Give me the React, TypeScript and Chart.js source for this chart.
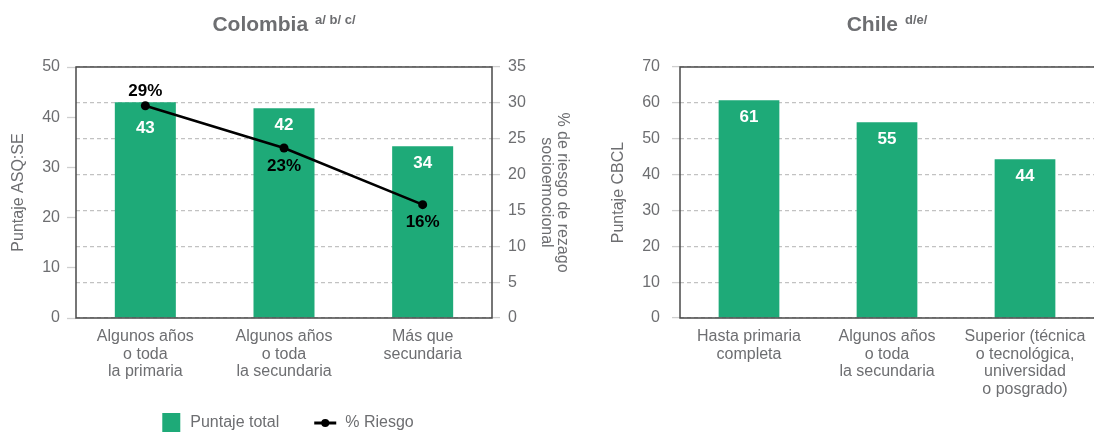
import React, { useEffect, useRef } from "react";
import { Chart, registerables } from "chart.js";

Chart.register(...registerables);

// ---------- Data ----------
const colombiaCategories: string[][] = [
  ["Algunos años", "o toda", "la primaria"],
  ["Algunos años", "o toda", "la secundaria"],
  ["Más que", "secundaria"],
];
const colombiaScores = [43, 41.8, 34.2];
const colombiaRisk = [29.6, 23.7, 15.8];
const colombiaRiskLabels = ["29%", "23%", "16%"];
const colombiaScoreAxis = [0, 50, 10]; // min, max, step
const colombiaRiskAxis = [0, 35, 5];

const chileCategories: string[][] = [
  ["Hasta primaria", "completa"],
  ["Algunos años", "o toda", "la secundaria"],
  ["Superior (técnica", "o tecnológica,", "universidad", "o posgrado)"],
];
const chileScores = [60.7, 54.6, 44.3];
const chileScoreAxis = [0, 70, 10];

const seriesNames = ["Puntaje total", "% Riesgo"];

// ---------- Styles ----------
const FONT = "'Liberation Sans', Arial, Helvetica, sans-serif";
const GRAY = "#6d6e71";
const GREEN = "#1eaa78";
const FRAME = "#4a4a4a";
const GRID = "#c2c2c2";
const TICKMARK = "#cfcfcf";

Chart.defaults.font.family = FONT;

function titlePlugin(main: string, sup: string) {
  return {
    id: "customTitle",
    afterDraw(chart: any) {
      const { ctx, chartArea } = chart;
      ctx.save();
      ctx.fillStyle = GRAY;
      ctx.textBaseline = "alphabetic";
      ctx.textAlign = "left";
      ctx.font = `bold 21px ${FONT}`;
      const wMain = ctx.measureText(main).width;
      ctx.font = `bold 13px ${FONT}`;
      const wSup = ctx.measureText(sup).width;
      const gap = 7;
      const total = wMain + gap + wSup;
      const x0 = (chartArea.left + chartArea.right) / 2 - total / 2;
      ctx.font = `bold 21px ${FONT}`;
      ctx.fillText(main, x0, 31);
      ctx.font = `bold 13px ${FONT}`;
      ctx.fillText(sup, x0 + wMain + gap, 24);
      ctx.restore();
    },
  };
}

function framePlugin(openRight: boolean) {
  return {
    id: "frame",
    afterDatasetsDraw(chart: any) {
      const { ctx, chartArea: a, width } = chart;
      ctx.save();
      ctx.strokeStyle = FRAME;
      ctx.lineWidth = 1.5;
      ctx.beginPath();
      if (openRight) {
        ctx.moveTo(width, a.top);
        ctx.lineTo(a.left, a.top);
        ctx.lineTo(a.left, a.bottom);
        ctx.lineTo(width, a.bottom);
      } else {
        ctx.rect(a.left, a.top, a.right - a.left, a.bottom - a.top);
      }
      ctx.stroke();
      ctx.restore();
    },
  };
}

function barLabelPlugin(offsets: number[]) {
  return {
    id: "barLabels",
    afterDatasetsDraw(chart: any) {
      const { ctx } = chart;
      const meta = chart.getDatasetMeta(0);
      const data = chart.data.datasets[0].data as number[];
      ctx.save();
      ctx.font = `bold 17px ${FONT}`;
      ctx.fillStyle = "#ffffff";
      ctx.textAlign = "center";
      ctx.textBaseline = "middle";
      meta.data.forEach((el: any, i: number) => {
        ctx.fillText(String(Math.round(data[i])), el.x, el.y + offsets[i]);
      });
      ctx.restore();
    },
  };
}

function riskLabelPlugin(labels: string[], offsets: number[]) {
  return {
    id: "riskLabels",
    afterDatasetsDraw(chart: any) {
      const { ctx } = chart;
      const meta = chart.getDatasetMeta(1);
      ctx.save();
      ctx.font = `bold 17px ${FONT}`;
      ctx.fillStyle = "#000000";
      ctx.textAlign = "center";
      ctx.textBaseline = "middle";
      meta.data.forEach((el: any, i: number) => {
        ctx.fillText(labels[i], el.x, el.y + offsets[i]);
      });
      ctx.restore();
    },
  };
}

const legendPlugin = {
  id: "customLegend",
  afterDraw(chart: any) {
    const { ctx, width } = chart;
    const ds = chart.data.datasets;
    ctx.save();
    ctx.font = `16px ${FONT}`;
    ctx.textBaseline = "middle";
    ctx.textAlign = "left";
    const boxW = 18;
    const gap = 10;
    const itemGap = 35;
    const lineW = 22;
    const w0 = ctx.measureText(ds[0].label).width;
    const w1 = ctx.measureText(ds[1].label).width;
    const total = boxW + gap + w0 + itemGap + lineW + 9 + w1;
    let x = width / 2 - total / 2;
    const y = 423;
    ctx.fillStyle = ds[0].backgroundColor;
    ctx.fillRect(x, y - 10, boxW, 19);
    x += boxW + gap;
    ctx.fillStyle = GRAY;
    ctx.fillText(ds[0].label, x, y);
    x += w0 + itemGap;
    ctx.strokeStyle = ds[1].borderColor;
    ctx.lineWidth = 3;
    ctx.beginPath();
    ctx.moveTo(x, y);
    ctx.lineTo(x + lineW, y);
    ctx.stroke();
    ctx.fillStyle = ds[1].borderColor;
    ctx.beginPath();
    ctx.arc(x + lineW / 2, y, 4, 0, Math.PI * 2);
    ctx.fill();
    x += lineW + 9;
    ctx.fillStyle = GRAY;
    ctx.fillText(ds[1].label, x, y);
    ctx.restore();
  },
};

const tickFont = { family: FONT, size: 16, lineHeight: 1.1 };

function xScale() {
  return {
    type: "category" as const,
    offset: true,
    grid: {
      display: true,
      drawOnChartArea: false,
      drawTicks: true,
      tickLength: 10,
      tickColor: "rgba(0,0,0,0)",
    },
    border: { display: false },
    ticks: {
      padding: 0,
      color: GRAY,
      font: tickFont,
      maxRotation: 0,
      minRotation: 0,
      autoSkip: false,
    },
    afterFit: (s: any) => {
      s.height = 116;
    },
  };
}

function ColombiaChart() {
  const ref = useRef<HTMLCanvasElement>(null);
  useEffect(() => {
    const chart = new Chart(ref.current as HTMLCanvasElement, {
      type: "bar",
      data: {
        labels: colombiaCategories,
        datasets: [
          {
            type: "bar",
            label: seriesNames[0],
            data: colombiaScores,
            backgroundColor: GREEN,
            borderWidth: 0,
            yAxisID: "y",
            categoryPercentage: 0.88,
            barPercentage: 0.5,
            order: 2,
          } as any,
          {
            type: "line",
            label: seriesNames[1],
            data: colombiaRisk,
            borderColor: "#000000",
            backgroundColor: "#000000",
            borderWidth: 2.5,
            pointRadius: 4.5,
            pointBackgroundColor: "#000000",
            pointBorderWidth: 0,
            tension: 0,
            yAxisID: "y1",
            order: 1,
          } as any,
        ],
      },
      options: {
        responsive: false,
        animation: false,
        events: [],
        layout: { padding: { top: 67, left: 0, right: 0, bottom: 0 } },
        plugins: {
          legend: { display: false },
          tooltip: { enabled: false },
          title: { display: false },
        },
        scales: {
          x: xScale() as any,
          y: {
            position: "left",
            min: colombiaScoreAxis[0],
            max: colombiaScoreAxis[1],
            ticks: { stepSize: colombiaScoreAxis[2], padding: 7, color: GRAY, font: tickFont },
            grid: {
              display: true,
              drawOnChartArea: false,
              drawTicks: true,
              tickLength: 9,
              tickColor: TICKMARK,
              tickWidth: 1.3,
            },
            border: { display: false },
            title: {
              display: true,
              text: "Puntaje ASQ:SE",
              color: GRAY,
              font: { family: FONT, size: 16, lineHeight: 1.2 },
              padding: { top: 9, bottom: 0 },
            },
            afterFit: (s: any) => {
              s.width = 76;
            },
          } as any,
          y1: {
            position: "right",
            min: colombiaRiskAxis[0],
            max: colombiaRiskAxis[1],
            ticks: { stepSize: colombiaRiskAxis[2], padding: 8, color: GRAY, font: tickFont },
            grid: {
              display: true,
              drawOnChartArea: true,
              color: GRID,
              lineWidth: 1.2,
              drawTicks: true,
              tickLength: 8,
              tickColor: TICKMARK,
              tickWidth: 1.3,
            },
            border: { display: false, dash: [4, 3] },
            title: {
              display: true,
              text: ["% de riesgo de rezago", "socioemocional"],
              color: GRAY,
              font: { family: FONT, size: 16, lineHeight: 1.0 },
              padding: { top: 6, bottom: 0 },
            },
            afterFit: (s: any) => {
              s.width = 84;
            },
          } as any,
        },
      },
      plugins: [
        titlePlugin("Colombia", "a/ b/ c/"),
        framePlugin(false),
        barLabelPlugin([26, 17, 17]),
        riskLabelPlugin(colombiaRiskLabels, [-14, 18, 18]),
        legendPlugin,
      ],
    });
    return () => chart.destroy();
  }, []);
  return (
    <canvas
      ref={ref}
      width={576}
      height={434}
      style={{ position: "absolute", left: 0, top: 0, width: 576, height: 434, display: "block" }}
    />
  );
}

function ChileChart() {
  const ref = useRef<HTMLCanvasElement>(null);
  useEffect(() => {
    const chart = new Chart(ref.current as HTMLCanvasElement, {
      type: "bar",
      data: {
        labels: chileCategories,
        datasets: [
          {
            label: seriesNames[0],
            data: chileScores,
            backgroundColor: GREEN,
            borderWidth: 0,
            categoryPercentage: 0.88,
            barPercentage: 0.5,
          } as any,
        ],
      },
      options: {
        responsive: false,
        animation: false,
        events: [],
        layout: { padding: { top: 67, left: 0, right: 0, bottom: 0 } },
        plugins: {
          legend: { display: false },
          tooltip: { enabled: false },
          title: { display: false },
        },
        scales: {
          x: xScale() as any,
          y: {
            position: "left",
            min: chileScoreAxis[0],
            max: chileScoreAxis[1],
            ticks: { stepSize: chileScoreAxis[2], padding: 12, color: GRAY, font: tickFont },
            grid: {
              display: true,
              drawOnChartArea: true,
              color: GRID,
              lineWidth: 1.2,
              drawTicks: true,
              tickLength: 8,
              tickColor: TICKMARK,
              tickWidth: 1.3,
            },
            border: { display: false, dash: [4, 3] },
            title: {
              display: true,
              text: "Puntaje CBCL",
              color: GRAY,
              font: { family: FONT, size: 16, lineHeight: 1.2 },
              padding: { top: 9, bottom: 0 },
            },
            afterFit: (s: any) => {
              s.width = 80;
            },
          } as any,
        },
      },
      plugins: [titlePlugin("Chile", "d/e/"), framePlugin(true), barLabelPlugin([17, 17, 17])],
    });
    return () => chart.destroy();
  }, []);
  return (
    <canvas
      ref={ref}
      width={494}
      height={434}
      style={{ position: "absolute", left: 600, top: 0, width: 494, height: 434, display: "block" }}
    />
  );
}

export default function App() {
  return (
    <div
      style={{
        position: "absolute",
        left: 0,
        top: 0,
        width: 1094,
        height: 434,
        background: "#ffffff",
        overflow: "hidden",
      }}
    >
      <ColombiaChart />
      <ChileChart />
    </div>
  );
}
